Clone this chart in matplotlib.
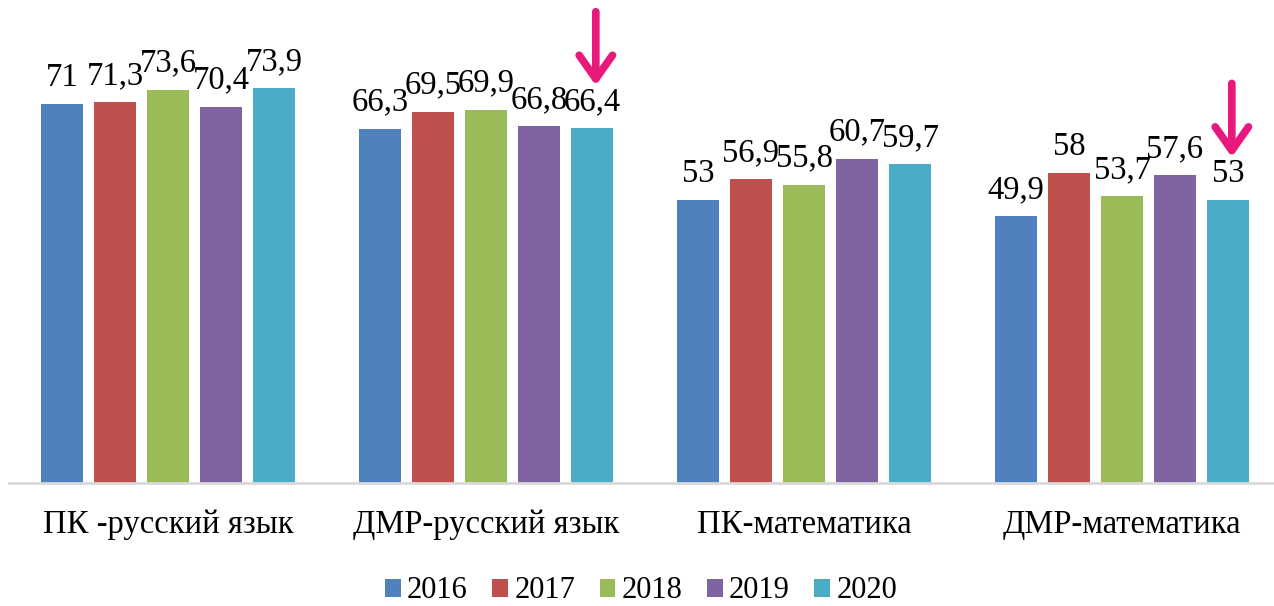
import numpy as np
import matplotlib
matplotlib.use('Agg')
import matplotlib.pyplot as plt

plt.rcParams['font.family'] = ['Liberation Serif', 'DejaVu Serif']

# Data
categories = ['ПК -русский язык', 'ДМР-русский язык', 'ПК-математика', 'ДМР-математика']
years = ['2016', '2017', '2018', '2019', '2020']
values = {
    '2016': [71.0, 66.3, 53.0, 49.9],
    '2017': [71.3, 69.5, 56.9, 58.0],
    '2018': [73.6, 69.9, 55.8, 53.7],
    '2019': [70.4, 66.8, 60.7, 57.6],
    '2020': [73.9, 66.4, 59.7, 53.0],
}
colors = ['#4F81BD', '#C0504D', '#9BBB59', '#8064A2', '#4BACC6']

# bars that get a pink arrow: (category index, year)
arrow_marks = [(1, '2020'), (3, '2020')]


def fmt(v):
    s = f'{v:.1f}'
    if s.endswith('.0'):
        s = s[:-2]
    return s.replace('.', ',')


fig = plt.figure(figsize=(12.74, 6.06), dpi=100)
ax = fig.add_axes([9 / 1274, 123 / 606, 1272 / 1274, 483 / 606])

x = np.arange(len(categories))
step = 53 / 318
width = 42 / 318

for i, (yr, c) in enumerate(zip(years, colors)):
    pos = x + (i - 2) * step
    bars = ax.bar(pos, values[yr], width=width, color=c, label=yr, zorder=2)
    for b, v in zip(bars, values[yr]):
        ax.annotate(fmt(v), (b.get_x() + b.get_width() / 2, v),
                    xytext=(0, 8), textcoords='offset points',
                    ha='center', va='bottom', fontsize=23.5)

# pink arrows
for ci, yr in arrow_marks:
    xi = x[ci] + (years.index(yr) - 2) * step
    v = values[yr][ci]
    ax.annotate('', xy=(xi + 0.012, v + 8.0), xytext=(xi + 0.012, v + 21.8),
                arrowprops=dict(arrowstyle='->, head_length=1.7, head_width=1.2',
                                color='#E8197B', lw=5.5, capstyle='round',
                                joinstyle='round', shrinkA=0, shrinkB=0),
                annotation_clip=False)

ax.set_xlim(-0.5, len(categories) - 0.5)
ax.set_ylim(0, 90.4)
ax.set_xticks(x)
ax.set_xticklabels(categories, fontsize=23.5)
ax.tick_params(axis='x', length=0, pad=19)
ax.set_yticks([])
for s in ['top', 'right', 'left']:
    ax.spines[s].set_visible(False)
ax.spines['bottom'].set_color('#D9D9D9')
ax.spines['bottom'].set_linewidth(2)

leg = fig.legend(loc='center', bbox_to_anchor=(641 / 1274, 1 - 591 / 606), ncol=5,
                 frameon=False, fontsize=22, handlelength=0.52, handleheight=0.52,
                 handletextpad=0.2, columnspacing=0.8)

fig.savefig('out.png', dpi=100)
